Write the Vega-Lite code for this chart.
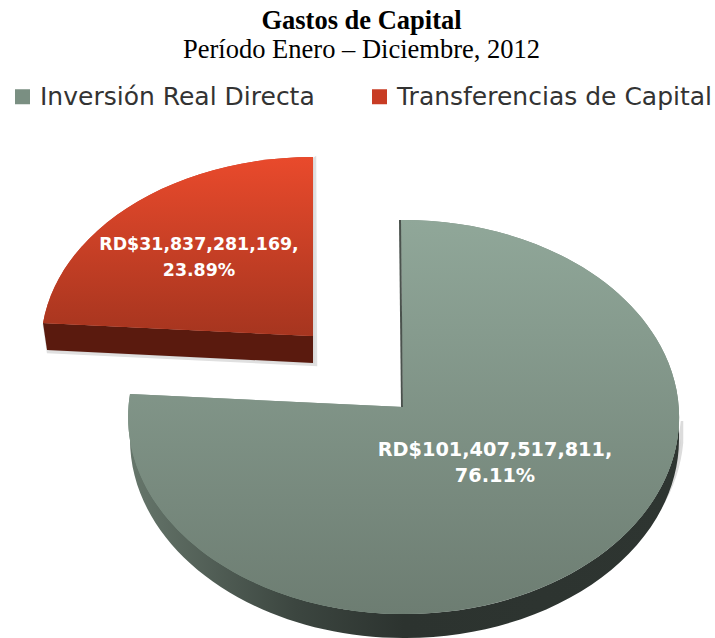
{
"$schema":"https://vega.github.io/schema/vega-lite/v6.json",
"width":715,"height":568,"autosize":"none","padding":{"left":0,"top":70,"right":0,"bottom":0},
"background":"white",
"title":{"text":"Gastos de Capital","subtitle":"Período Enero – Diciembre, 2012","font":"Liberation Serif","fontWeight":"bold","fontSize":26.5,"color":"#000000","subtitleFont":"Liberation Serif","subtitleFontSize":26.5,"subtitleColor":"#000000","subtitlePadding":2,"anchor":"middle","dx":4,"offset":7},
"data":{"values":[
{"parte":"Inversión Real Directa","monto":101407517811,"porcentaje":76.11,"etiqueta":"RD$101,407,517,811,\n76.11%"},
{"parte":"Transferencias de Capital","monto":31837281169,"porcentaje":23.89,"etiqueta":"RD$31,837,281,169,\n23.89%"}
]},
"config":{"view":{"stroke":null}},
"encoding":{
"x":{"field":"parte","type":"nominal","axis":null,"sort":null,"scale":{"type":"point","padding":0,"domain":["Inversión Real Directa","Transferencias de Capital"],"range":[403,313]}},
"y":{"field":"parte","type":"nominal","axis":null,"sort":null,"scale":{"type":"point","padding":0,"domain":["Inversión Real Directa","Transferencias de Capital"],"range":[337,266]}},
"size":{"value":4}
},
"layer":[
{"transform":[{"filter":"datum.porcentaje>50"}],
 "mark":{"type":"point","filled":false,"opacity":1,"fill":"#d4d4d4","stroke":"#dcdcdc","strokeWidth":2.5,"shape":"M 279,14 A 275.5 197 0 0 1 -271,14 L -271,33 A 275.5 199 0 0 0 279,36 Z"}},
{"transform":[{"filter":"datum.porcentaje>50"}],
 "mark":{"type":"point","filled":true,"opacity":1,"shape":"M 276,10 A 274.5 197 0 0 1 -273,10 L -273,31 A 274.5 199 0 0 0 276,33 Z","fill":{"gradient":"linear","x1":0,"y1":0,"x2":1,"y2":0,"stops":[{"offset":0,"color":"#66766b"},{"offset":0.3,"color":"#3c4640"},{"offset":0.5,"color":"#2c332f"},{"offset":1,"color":"#2e3531"}]}}},
{"transform":[{"filter":"datum.porcentaje<50"}],
 "mark":{"type":"point","filled":false,"opacity":1,"fill":"#d8d8d8","stroke":"#e0e0e0","strokeWidth":2.5,"shape":"M -269,-11 L 2,-178 L 3,29 L -265,16 Z"}},
{"transform":[{"filter":"datum.porcentaje<50"}],
 "mark":{"type":"point","filled":true,"opacity":1,"fill":"#5a1a0e","shape":"M -270,-13 L 0,0 L 0,27 L -266,14 Z"}},
{"mark":{"type":"point","filled":true,"opacity":1},
 "encoding":{
  "color":{"field":"parte","type":"nominal","scale":{"domain":["Inversión Real Directa","Transferencias de Capital"],"range":["#7a8f82","#c83c24"]},
   "legend":{"title":null,"orient":"none","legendX":10,"legendY":14,"direction":"horizontal","columns":2,"symbolType":"square","symbolSize":225,"symbolStrokeWidth":0,"labelFont":"DejaVu Sans","labelFontSize":25,"labelColor":"#333333","labelLimit":400,"columnPadding":52,"labelOffset":5}},
  "shape":{"field":"parte","type":"nominal","legend":null,"scale":{"domain":["Inversión Real Directa","Transferencias de Capital"],"range":["M 0,0 L -2,-187 A 275.5 197 0 1 1 -273,-13 Z","M 0,0 L -270,-13 A 272 189 0 0 1 0,-179 Z"]}}
 }},
{"transform":[{"filter":"datum.porcentaje>50"}],
 "mark":{"type":"point","filled":true,"opacity":1,"shape":"M 0,0 L -2,-187 A 275.5 197 0 1 1 -273,-13 Z","fill":{"gradient":"linear","x1":0,"y1":0,"x2":0,"y2":1,"stops":[{"offset":0,"color":"#90a799"},{"offset":1,"color":"#6d7d72"}]}}},
{"transform":[{"filter":"datum.porcentaje<50"}],
 "mark":{"type":"point","filled":true,"opacity":1,"shape":"M 0,0 L -270,-13 A 272 189 0 0 1 0,-179 Z","fill":{"gradient":"linear","x1":0,"y1":0,"x2":0,"y2":1,"stops":[{"offset":0,"color":"#e94a2c"},{"offset":1,"color":"#a6351f"}]}}},
{"transform":[{"filter":"datum.porcentaje>50"}],
 "mark":{"type":"point","filled":false,"opacity":1,"stroke":"#4a524d","strokeWidth":2,"shape":"M -3,-187 L -1,0"}},
{"mark":{"type":"text","font":"DejaVu Sans","fontWeight":"bold","color":"white","align":"center","baseline":"middle","lineBreak":"\n","lineHeight":25.5},
 "encoding":{
  "text":{"field":"etiqueta","type":"nominal"},
  "size":{"condition":{"test":"datum.porcentaje>50","value":19.3},"value":17.4},
  "x":{"field":"parte","type":"nominal","axis":null,"sort":null,"scale":{"type":"point","padding":0,"domain":["Inversión Real Directa","Transferencias de Capital"],"range":[495,199]}},
  "y":{"field":"parte","type":"nominal","axis":null,"sort":null,"scale":{"type":"point","padding":0,"domain":["Inversión Real Directa","Transferencias de Capital"],"range":[380,175]}}
 }}
],
"resolve":{"scale":{"x":"independent","y":"independent","shape":"independent"}}
}
